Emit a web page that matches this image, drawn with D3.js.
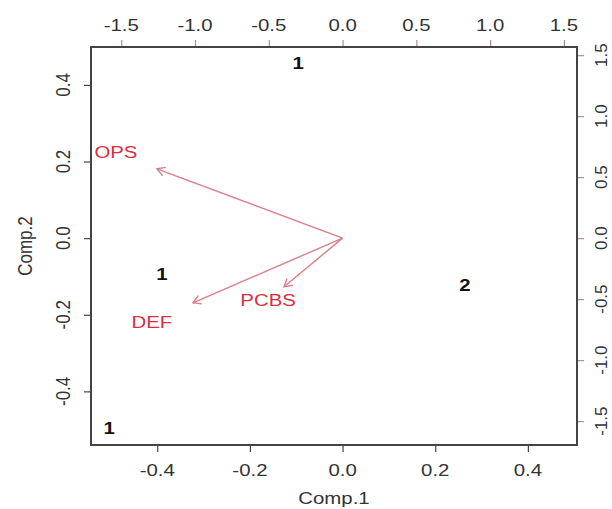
<!DOCTYPE html>
<html>
<head>
<meta charset="utf-8">
<script src="https://cdn.jsdelivr.net/npm/d3@7"></script>
<style>
html,body{margin:0;padding:0;background:#fff;}
svg{display:block;}
text{font-family:"Liberation Sans",Arial,Helvetica,sans-serif;}
</style>
</head>
<body>
<script>
// ---- data ----
const pointLabels = ["1", "1", "2", "1"];
const pointX = [-0.096, -0.390, 0.264, -0.504];
const pointY = [0.458, -0.093, -0.122, -0.495];

const varNames = ["OPS", "DEF", "PCBS"];
const loadX = [-1.258, -1.014, -0.397];
const loadY = [0.568, -0.530, -0.399];
const varLabelX = [-1.536, -1.292, -0.505];
const varLabelY = [0.707, -0.686, -0.506];

const bottomTicks = [-0.4, -0.2, 0.0, 0.2, 0.4];
const leftTicks = [-0.4, -0.2, 0.0, 0.2, 0.4];
const topTicks = [-1.5, -1.0, -0.5, 0.0, 0.5, 1.0, 1.5];
const rightTicks = [-1.5, -1.0, -0.5, 0.0, 0.5, 1.0, 1.5];

const xLabel = "Comp.1";
const yLabel = "Comp.2";

// ---- layout ----
const W = 612, H = 509;
const box = {l: 91, r: 577, t: 47, b: 445};
const sx = 1.2;      // horizontal stretch of text (picture is stretched)
const fs = 17;
const tickLen = 7;
const axisCol = "#444";
const redCol = "#d8303e";
const arrowCol = "#d97f8a";
const secTickCol = "#b98890";

const x = d3.scaleLinear().domain([-0.543, 0.506]).range([box.l, box.r]);
const y = d3.scaleLinear().domain([-0.540, 0.499]).range([box.b, box.t]);
const ratio = 3.14;
const x2 = d3.scaleLinear().domain(x.domain().map(v => v * ratio)).range([box.l, box.r]);
const y2 = d3.scaleLinear().domain(y.domain().map(v => v * ratio)).range([box.b, box.t]);

const svg = d3.select("body").append("svg").attr("width", W).attr("height", H);

function fmt(v){ return v.toFixed(1); }

function addText(g, str, px, py, rot, fill, weight, stretch){
  const s = stretch === undefined ? sx : stretch;
  let tr = `translate(${px},${py}) scale(${s},1)`;
  if (rot) tr += ` rotate(${rot})`;
  return g.append("text")
    .attr("transform", tr)
    .attr("text-anchor", "middle")
    .attr("dominant-baseline", "central")
    .attr("font-size", fs)
    .attr("font-weight", weight || "normal")
    .attr("fill", fill || "#333")
    .text(str);
}

function drawAxis(gen, scale, ticks, transform, col){
  const g = svg.append("g").attr("transform", transform)
    .call(gen(scale).tickValues(ticks).tickSize(tickLen).tickFormat(""));
  g.select(".domain").remove();
  g.selectAll(".tick line").attr("stroke", col).attr("stroke-width", 1.2);
  return g;
}
drawAxis(d3.axisBottom, x, bottomTicks, `translate(0,${box.b})`, axisCol);
drawAxis(d3.axisLeft, y, leftTicks, `translate(${box.l},0)`, axisCol);
drawAxis(d3.axisTop, x2, topTicks, `translate(0,${box.t})`, secTickCol);
drawAxis(d3.axisRight, y2, rightTicks, `translate(${box.r},0)`, secTickCol);

const lab = svg.append("g");
bottomTicks.forEach(t => addText(lab, fmt(t), x(t), 470, 0, "#333"));
leftTicks.forEach(t => addText(lab, fmt(t), 63, y(t), -90, "#333"));
topTicks.forEach(t => addText(lab, fmt(t), x2(t), 25, 0, "#333"));
rightTicks.forEach(t => addText(lab, fmt(t), 601, y2(t), -90, "#333", "normal", 1.0));
addText(lab, xLabel, (box.l + box.r) / 2, 498, 0, "#333");
addText(lab, yLabel, 25, (box.t + box.b) / 2, -90, "#333");

// box
svg.append("rect")
  .attr("x", box.l).attr("y", box.t)
  .attr("width", box.r - box.l).attr("height", box.b - box.t)
  .attr("fill", "none").attr("stroke", axisCol).attr("stroke-width", 2);

// points (as text labels)
const pts = svg.append("g");
pointLabels.forEach((p, i) => addText(pts, p, x(pointX[i]), y(pointY[i]), 0, "#111", "bold"));

// arrows
const arr = svg.append("g").attr("stroke", arrowCol).attr("stroke-width", 1.4).attr("fill", "none");
const x0 = x2(0), y0 = y2(0);
varNames.forEach((n, i) => {
  const xe = x2(loadX[i]), ye = y2(loadY[i]);
  arr.append("line").attr("x1", x0).attr("y1", y0).attr("x2", xe).attr("y2", ye);
  const ang = Math.atan2(ye - y0, xe - x0);
  const hl = 9, ha = Math.PI / 6;
  const p1 = [xe - hl * Math.cos(ang - ha), ye - hl * Math.sin(ang - ha)];
  const p2 = [xe - hl * Math.cos(ang + ha), ye - hl * Math.sin(ang + ha)];
  arr.append("path").attr("d", `M${p1[0]},${p1[1]}L${xe},${ye}L${p2[0]},${p2[1]}`);
  addText(svg, n, x2(varLabelX[i]), y2(varLabelY[i]), 0, redCol);
});
</script>
</body>
</html>
